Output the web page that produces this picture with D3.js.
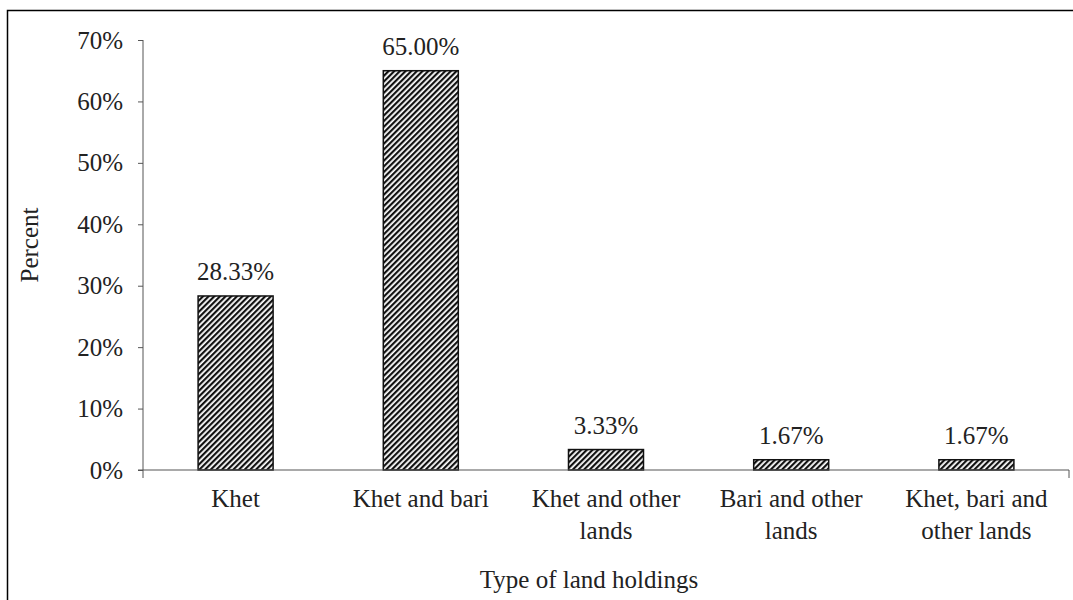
<!DOCTYPE html>
<html>
<head>
<meta charset="utf-8">
<script src="https://cdn.jsdelivr.net/npm/d3@7"></script>
<style>
  body { margin: 0; background: #fff; }
  svg text { font-family: "Liberation Serif", "Times New Roman", serif; fill: #222; }
</style>
</head>
<body>
<div id="chart"></div>
<script>
// categories (each split into the lines it is drawn on)
const categories = ["Khet", "Khet and bari", "Khet and other lands", "Bari and other lands", "Khet, bari and other lands"];
const categoryLines = [["Khet"], ["Khet and bari"], ["Khet and other", "lands"], ["Bari and other", "lands"], ["Khet, bari and", "other lands"]];
const percents = [28.33, 65.00, 3.33, 1.67, 1.67];
const yTicks = [0, 10, 20, 30, 40, 50, 60, 70];

const w = 1073, h = 600;
const margin = { left: 143, right: 4, top: 40, bottom: 130 };
const fontSize = 25;

const svg = d3.select("#chart").append("svg")
  .attr("width", w)
  .attr("height", h);

// hatch fill
const defs = svg.append("defs");
const pat = defs.append("pattern")
  .attr("id", "hatch")
  .attr("patternUnits", "userSpaceOnUse")
  .attr("width", 4)
  .attr("height", 4)
  .attr("patternTransform", "rotate(45)");
pat.append("rect").attr("width", 4).attr("height", 4).attr("fill", "#fff");
pat.append("rect").attr("width", 2.2).attr("height", 4).attr("fill", "#111");

// outer frame (left + top edges only visible)
svg.append("path")
  .attr("d", `M7.5,${h} V10.5 H${w}`)
  .attr("fill", "none")
  .attr("stroke", "#000")
  .attr("stroke-width", 1.5);

const xScale = d3.scaleBand()
  .domain(categories)
  .range([margin.left, w - margin.right])
  .paddingInner(0.595)
  .paddingOuter(0.2975);

const yScale = d3.scaleLinear()
  .domain([0, 70])
  .range([h - margin.bottom, margin.top]);

const axisColor = "#555";

// y axis
const yAxis = svg.append("g")
  .attr("transform", `translate(${margin.left},0)`)
  .call(d3.axisLeft(yScale).tickValues(yTicks).tickFormat(d => d + "%").tickSize(5).tickSizeOuter(0).tickPadding(15));
yAxis.select(".domain").remove();
yAxis.selectAll("line").attr("stroke", axisColor);
yAxis.selectAll("text").attr("font-size", fontSize).attr("fill", "#333").style("font-family", "Liberation Serif");
yAxis.append("line")
  .attr("x1", 0).attr("x2", 0)
  .attr("y1", yScale(70)).attr("y2", yScale(0) + 8)
  .attr("stroke", axisColor);

// bars
svg.append("g").selectAll("rect")
  .data(percents)
  .join("rect")
  .attr("x", (d, i) => xScale(categories[i]))
  .attr("y", d => yScale(d))
  .attr("width", xScale.bandwidth())
  .attr("height", d => yScale(0) - yScale(d))
  .attr("fill", "url(#hatch)")
  .attr("stroke", "#111")
  .attr("stroke-width", 1.5);

// x axis line
const x0 = yScale(0);
svg.append("line")
  .attr("x1", margin.left - 5).attr("x2", w - margin.right)
  .attr("y1", x0).attr("y2", x0)
  .attr("stroke", axisColor);
svg.append("line")
  .attr("x1", w - margin.right).attr("x2", w - margin.right)
  .attr("y1", x0).attr("y2", x0 + 8)
  .attr("stroke", axisColor);

// value labels
svg.append("g").selectAll("text")
  .data(percents)
  .join("text")
  .attr("x", (d, i) => xScale(categories[i]) + xScale.bandwidth() / 2)
  .attr("y", d => yScale(d) - 16)
  .attr("text-anchor", "middle")
  .attr("font-size", fontSize)
  .attr("fill", "#333")
  .text(d => d.toFixed(2) + "%");

// category labels
const catG = svg.append("g");
categoryLines.forEach((lines, i) => {
  const t = catG.append("text")
    .attr("x", xScale(categories[i]) + xScale.bandwidth() / 2)
    .attr("y", x0 + 37)
    .attr("text-anchor", "middle")
    .attr("font-size", fontSize);
  lines.forEach((ln, j) => {
    t.append("tspan")
      .attr("x", xScale(categories[i]) + xScale.bandwidth() / 2)
      .attr("dy", j === 0 ? 0 : 32)
      .text(ln);
  });
});

// axis titles
svg.append("text")
  .attr("transform", `translate(38,245) rotate(-90)`)
  .attr("text-anchor", "middle")
  .attr("font-size", fontSize)
  .text("Percent");

svg.append("text")
  .attr("x", 589)
  .attr("y", 588)
  .attr("text-anchor", "middle")
  .attr("font-size", fontSize)
  .text("Type of land holdings");
</script>
</body>
</html>
